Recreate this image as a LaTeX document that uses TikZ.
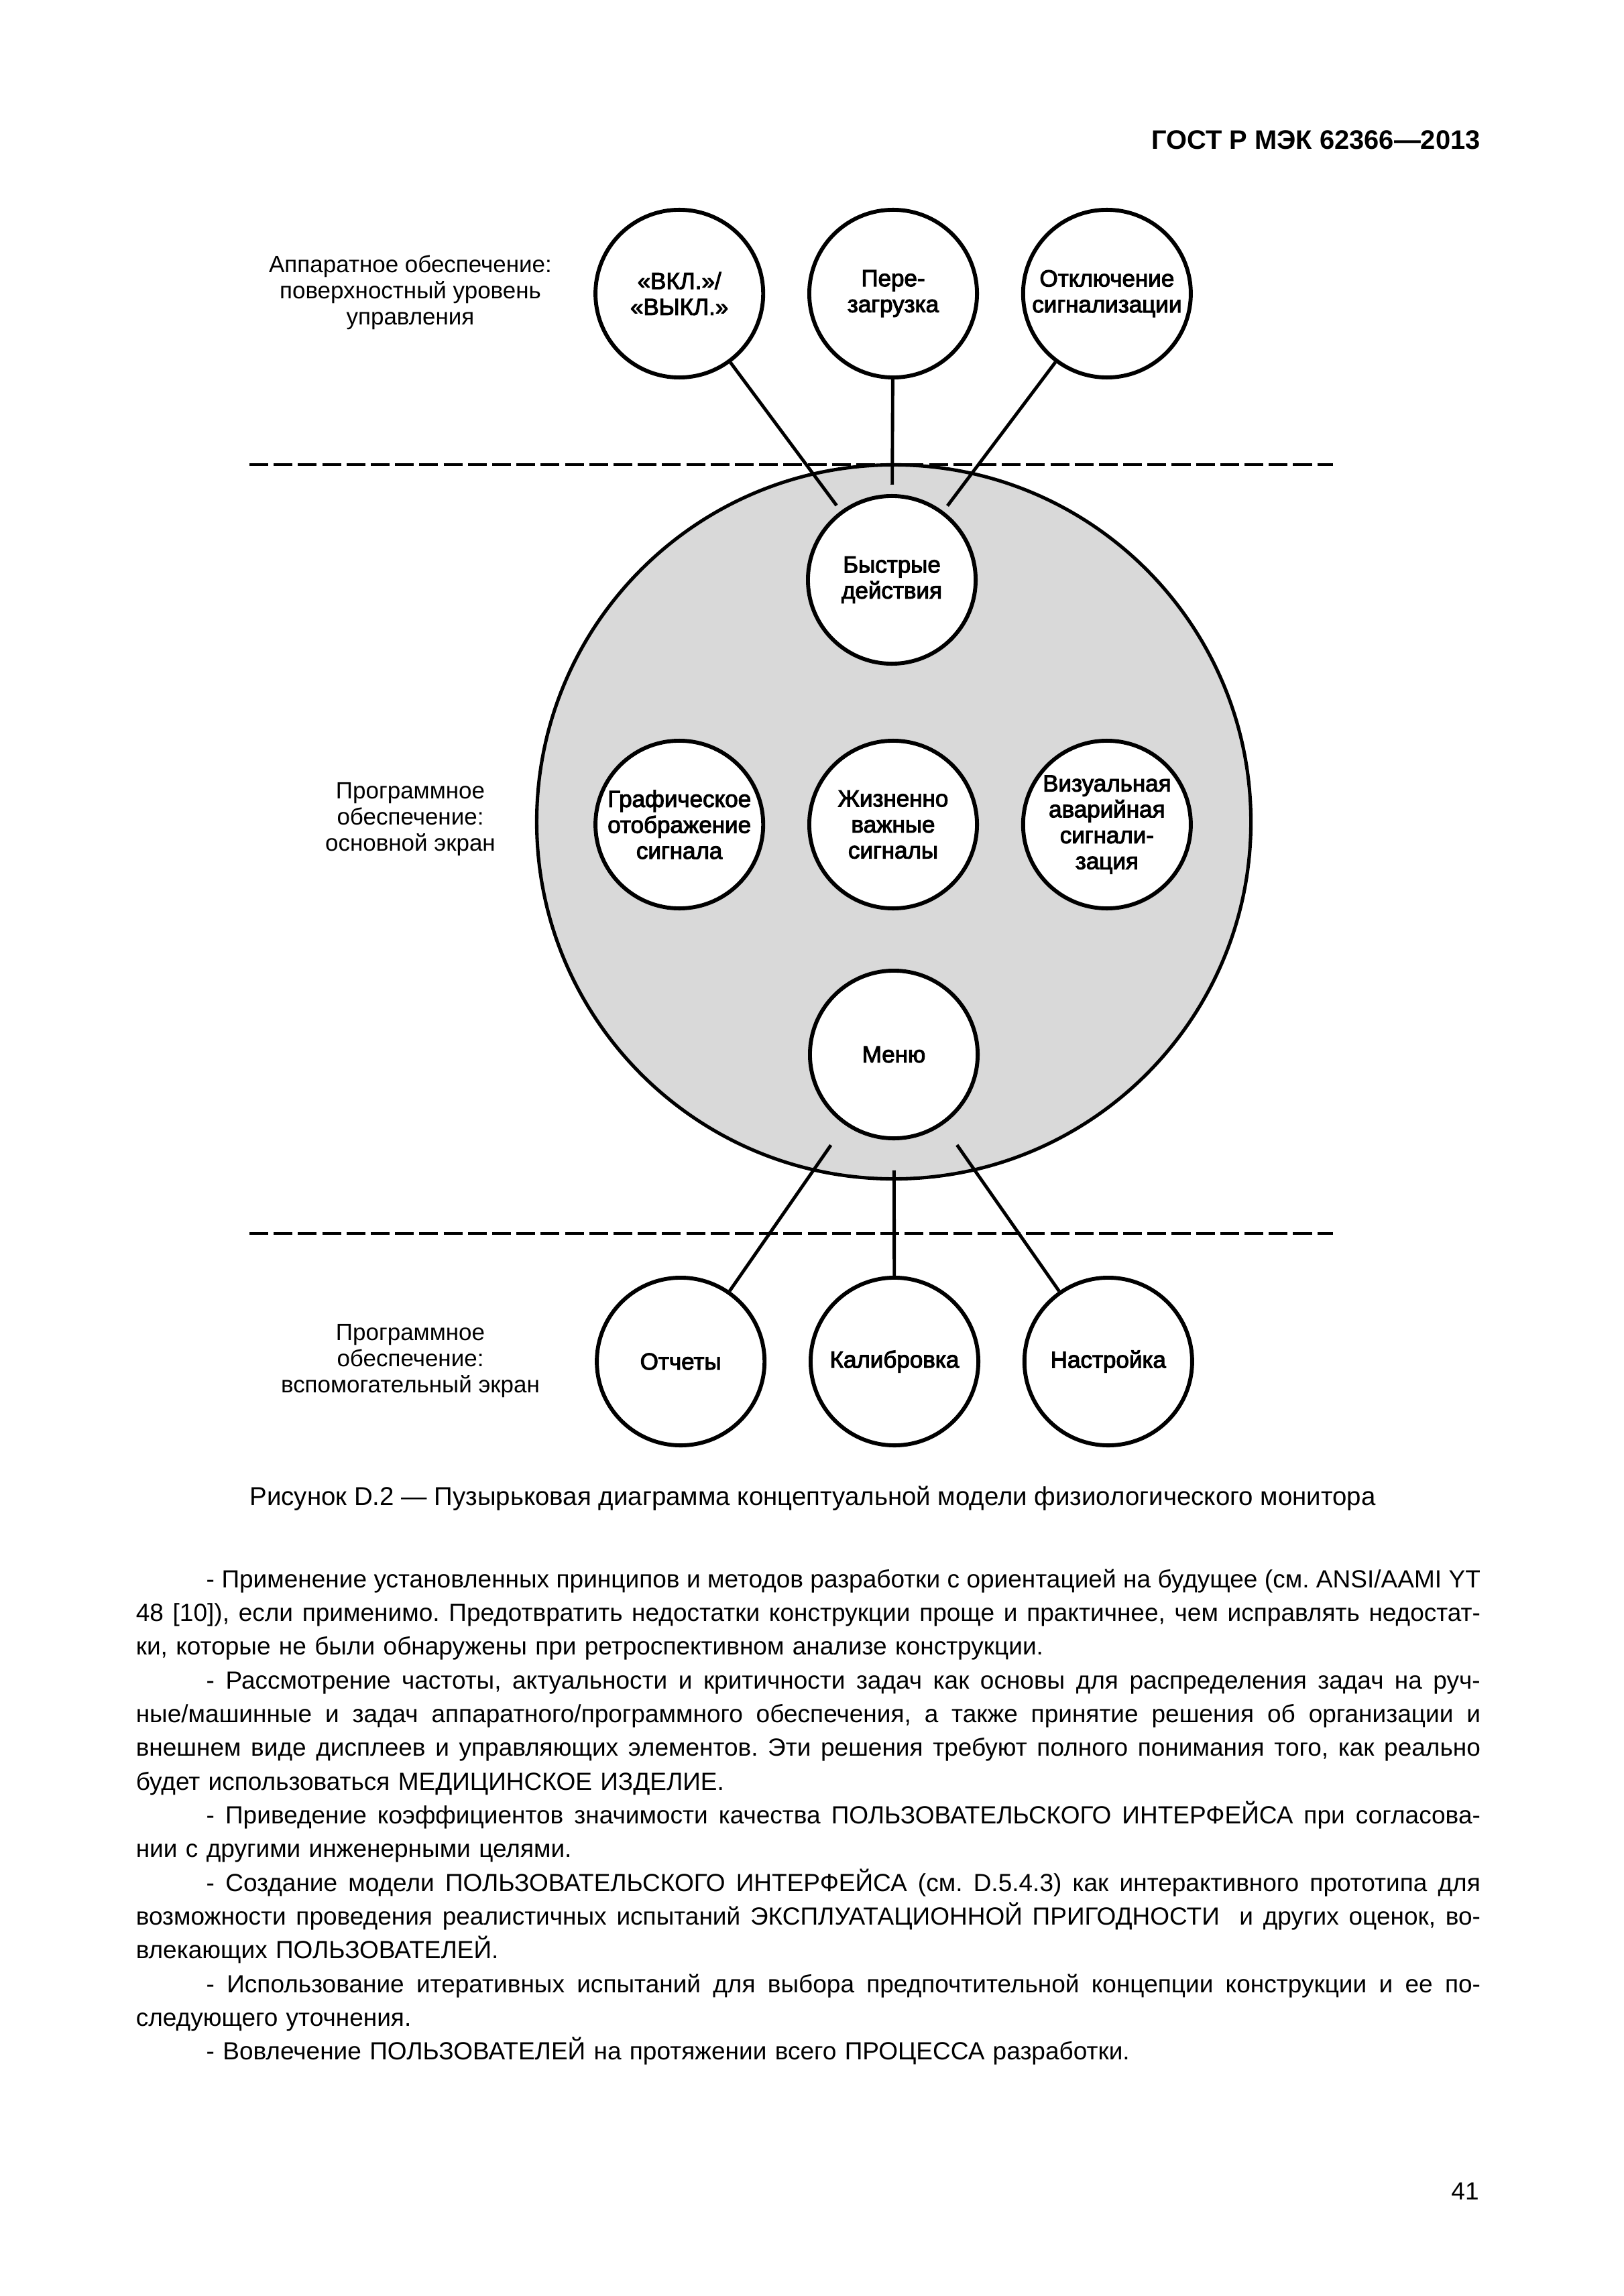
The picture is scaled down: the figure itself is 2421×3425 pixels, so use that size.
\documentclass[tikz,border=0pt]{standalone}
\usepackage{fontspec}
\setmainfont{Liberation Sans}
\newfontfamily\bubblefont{Liberation Sans}[FakeBold=3]
\usepackage{tikz}

\newcommand{\ind}{\hskip 25.8pt\relax}
\newcommand{\fullline}[1]{\hbox to\hsize{\spaceskip=0.278em plus 0.5em minus 0.15em\relax #1}}
\newcommand{\lastline}[1]{\hbox to\hsize{#1\hfil}}

\begin{document}
\begin{tikzpicture}[x=0.24588pt,y=-0.24588pt,node distance=78.4pt]
    \tikzset{bubble/.style={circle,draw,line width=1.45pt,fill=white,minimum size=61.5pt,inner sep=0pt,
        align=center,font=\bubblefont\fontsize{8.6}{9.5}\selectfont},
      layer/.style={align=center,font=\fontsize{8.6}{9.6}\selectfont},
      link/.style={line width=1.2pt},
      divider/.style={line width=1pt,dash pattern=on 6.9pt off 2pt}}

    \useasboundingbox[fill=white] (0,0) rectangle (2421,3425);

    \node[anchor=base east,font=\bfseries\fontsize{9.8}{12}\selectfont] (gost) at (2222,223) {ГОСТ Р МЭК 62366—2013};

    \node[circle,draw,line width=1.25pt,fill=black!15,minimum size=261.9pt] (screen) at (1333,1226) {};

    \coordinate (d1l) at (372,693);
    \coordinate (d1r) at (1988,693);
    \coordinate (d2l) at (372,1840);
    \coordinate (d2r) at (1988,1840);
    \draw[divider] (d1l) -- (d1r);
    \draw[divider] (d2l) -- (d2r);

    \node[layer] (hw) at (612,436) {Аппаратное обеспечение:\\поверхностный уровень\\управления};
    \node[layer] (main) at (612,1222) {Программное\\обеспечение:\\основной экран};
    \node[layer] (aux) at (612,2030) {Программное\\обеспечение:\\вспомогательный экран};

    \node[bubble] (reboot) at (1332,438) {Пере-\\загрузка};
    \node[bubble] (onoff) [left of=reboot] {«ВКЛ.»/\\«ВЫКЛ.»};
    \node[bubble] (mute) [right of=reboot] {Отключение\\сигнализации};

    \node[bubble] (quick) at (1330,865) {Быстрые\\действия};
    \node[bubble] (vital) at (1332,1230) {Жизненно\\важные\\сигналы};
    \node[bubble] (graph) [left of=vital] {Графическое\\отображение\\сигнала};
    \node[bubble] (alarm) [right of=vital] {Визуальная\\аварийная\\сигнали-\\зация};
    \node[bubble] (menu) at (1333,1573) {Меню};

    \node[bubble] (calib) at (1334,2031) {Калибровка};
    \node[bubble] (reports) [left of=calib] {Отчеты};
    \node[bubble] (setup) [right of=calib] {Настройка};

    \draw[link,shorten >=2.5pt] (onoff) -- (quick);
    \draw[link,shorten >=3.5pt] (reboot) -- (quick);
    \draw[link,shorten >=2.5pt] (mute) -- (quick);
    \draw[link,shorten <=9pt] (menu) -- (reports);
    \draw[link,shorten <=11pt] (menu) -- (calib);
    \draw[link,shorten <=9pt] (menu) -- (setup);

    \node[anchor=base,font=\fontsize{9.45}{11}\selectfont] (caption) at (1212,2245)
      {Рисунок D.2 — Пузырьковая диаграмма концептуальной модели физиологического монитора};

    \node[anchor=north west,text width=493pt,inner sep=0pt,
      font=\fontsize{9.1}{12.37}\selectfont] (body) at (202,2340) {%
      \frenchspacing
      \fullline{\ind- Применение установленных принципов и методов разработки с ориентацией на будущее (см. ANSI/AAMI YT}
      \fullline{48 [10]), если применимо. Предотвратить недостатки конструкции проще и практичнее, чем исправлять недостат-}
      \lastline{ки, которые не были обнаружены при ретроспективном анализе конструкции.}
      \fullline{\ind- Рассмотрение частоты, актуальности и критичности задач как основы для распределения задач на руч-}
      \fullline{ные/машинные и задач аппаратного/программного обеспечения, а также принятие решения об организации и}
      \fullline{внешнем виде дисплеев и управляющих элементов. Эти решения требуют полного понимания того, как реально}
      \lastline{будет использоваться МЕДИЦИНСКОЕ ИЗДЕЛИЕ.}
      \fullline{\ind- Приведение коэффициентов значимости качества ПОЛЬЗОВАТЕЛЬСКОГО ИНТЕРФЕЙСА при согласова-}
      \lastline{нии с другими инженерными целями.}
      \fullline{\ind- Создание модели ПОЛЬЗОВАТЕЛЬСКОГО ИНТЕРФЕЙСА (см. D.5.4.3) как интерактивного прототипа для}
      \fullline{возможности проведения реалистичных испытаний ЭКСПЛУАТАЦИОННОЙ ПРИГОДНОСТИ\ \ и других оценок, во-}
      \lastline{влекающих ПОЛЬЗОВАТЕЛЕЙ.}
      \fullline{\ind- Использование итеративных испытаний для выбора предпочтительной концепции конструкции и ее по-}
      \lastline{следующего уточнения.}
      \lastline{\ind- Вовлечение ПОЛЬЗОВАТЕЛЕЙ на протяжении всего ПРОЦЕССА разработки.}};

    \node[anchor=base east,font=\fontsize{9.1}{11}\selectfont] (page) at (2220,3281) {41};
\end{tikzpicture}
\end{document}
